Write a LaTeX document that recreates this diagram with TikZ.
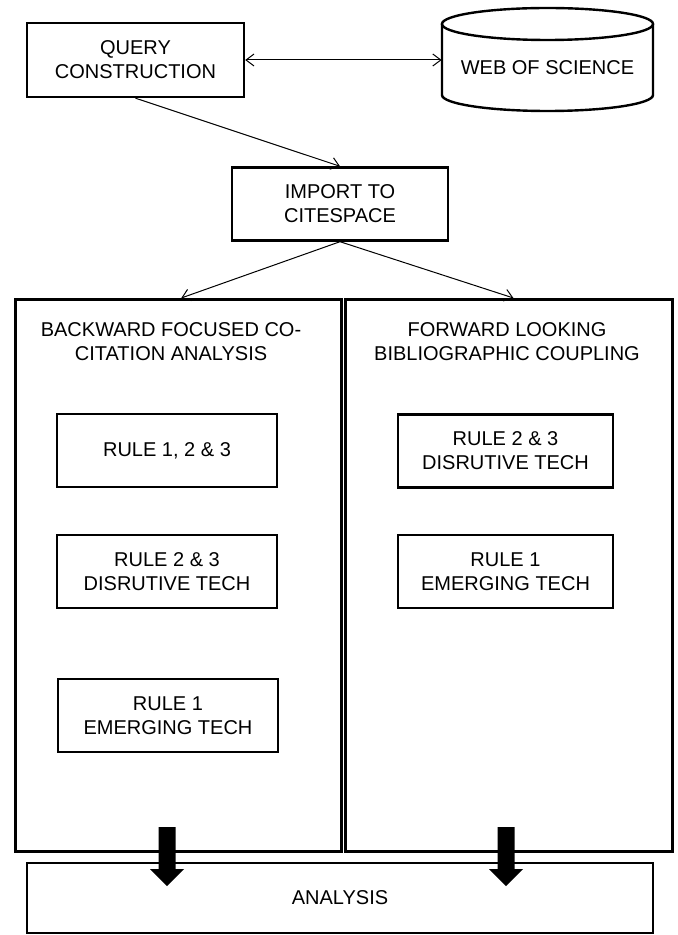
\documentclass[tikz,border=0pt]{standalone}
\usepackage{fontspec}
\setmainfont{Liberation Sans}
\usetikzlibrary{arrows.meta,calc}
\begin{document}
\begin{tikzpicture}[x=0.5pt,y=0.5pt,
  txt/.style={align=center, font=\fontsize{10}{12}\selectfont, inner sep=0pt},
  box/.style={txt, draw, line width=1.2pt},
  panel/.style={draw, line width=1.3pt, anchor=north west, inner sep=0pt},
  link/.style={line width=0.5pt, -{Straight Barb[length=4pt,width=6pt]}},
  dlink/.style={line width=0.5pt, {Straight Barb[length=4pt,width=6pt]}-{Straight Barb[length=4pt,width=6pt]}},
  fat/.style={fill=black, draw=none}]
\useasboundingbox (0,0) rectangle (678,-935);
\fill[white] (0,0) rectangle (678,-935);

% top row
\node[box, minimum width=108.5pt, minimum height=37pt] (query) at (135.5,-60) {QUERY\\CONSTRUCTION};
\node[txt, minimum width=105.5pt, minimum height=20pt] (wos) at (547.5,-68) {WEB OF SCIENCE};
% database cylinder around the text
\draw[line width=1.2pt] (442,-24) -- (442,-95)
  arc[start angle=180, end angle=360, x radius=105.5, y radius=16]
  -- (653,-24);
\draw[line width=1.2pt] (547.5,-24) ellipse[x radius=105.5, y radius=16];
\draw[dlink] (query.east) -- (query.east -| wos.west);

\node[box, minimum width=108pt, minimum height=36.5pt] (import) at (340,-204) {IMPORT TO\\CITESPACE};
\draw[link] (query.south) -- (import.north);

% two analysis panels
\node[panel, minimum width=163pt, minimum height=276pt] (bwd) at (14,-298) {};
\node[panel, minimum width=163.5pt, minimum height=276pt] (fwd) at (344,-298) {};
\draw[link] (import.south) -- ($(bwd.north west)!0.509!(bwd.north east)$);
\draw[link] (import.south) -- ($(fwd.north west)!0.514!(fwd.north east)$);

\node[txt] (bwdtitle) at (171,-342) {BACKWARD FOCUSED CO-\\CITATION ANALYSIS};
\node[txt] (fwdtitle) at (507,-342) {FORWARD LOOKING\\BIBLIOGRAPHIC COUPLING};

% rule boxes, backward panel
\node[box, minimum width=110pt, minimum height=36.5pt] (b1) at (167,-450.5) {RULE 1, 2 \& 3};
\node[box, minimum width=110pt, minimum height=36.5pt] (b2) at (167,-571.5) {RULE 2 \& 3\\DISRUTIVE TECH};
\node[box, minimum width=110pt, minimum height=36.5pt] (b3) at (168,-715.5) {RULE 1\\EMERGING TECH};
% rule boxes, forward panel
\node[box, minimum width=107.5pt, minimum height=36.5pt] (f1) at (505.5,-451) {RULE 2 \& 3\\DISRUTIVE TECH};
\node[box, minimum width=107.5pt, minimum height=36.5pt] (f2) at (505.5,-571.5) {RULE 1\\EMERGING TECH};

% final analysis box
\node[box, minimum width=313pt, minimum height=35pt] (analysis) at (340,-898) {ANALYSIS};

% block arrows into the analysis box
\foreach \x/\n in {167/la, 506/ra} {
  \coordinate (\n) at (\x,-827);
  \fill[fat] ($(\n)+(-8.5,0)$) -- ($(\n)+(8.5,0)$) -- ($(\n)+(8.5,-42)$) -- ($(\n)+(17,-42)$)
    -- ($(\n)+(0,-59)$) -- ($(\n)+(-17,-42)$) -- ($(\n)+(-8.5,-42)$) -- cycle;
}
\end{tikzpicture}
\end{document}
